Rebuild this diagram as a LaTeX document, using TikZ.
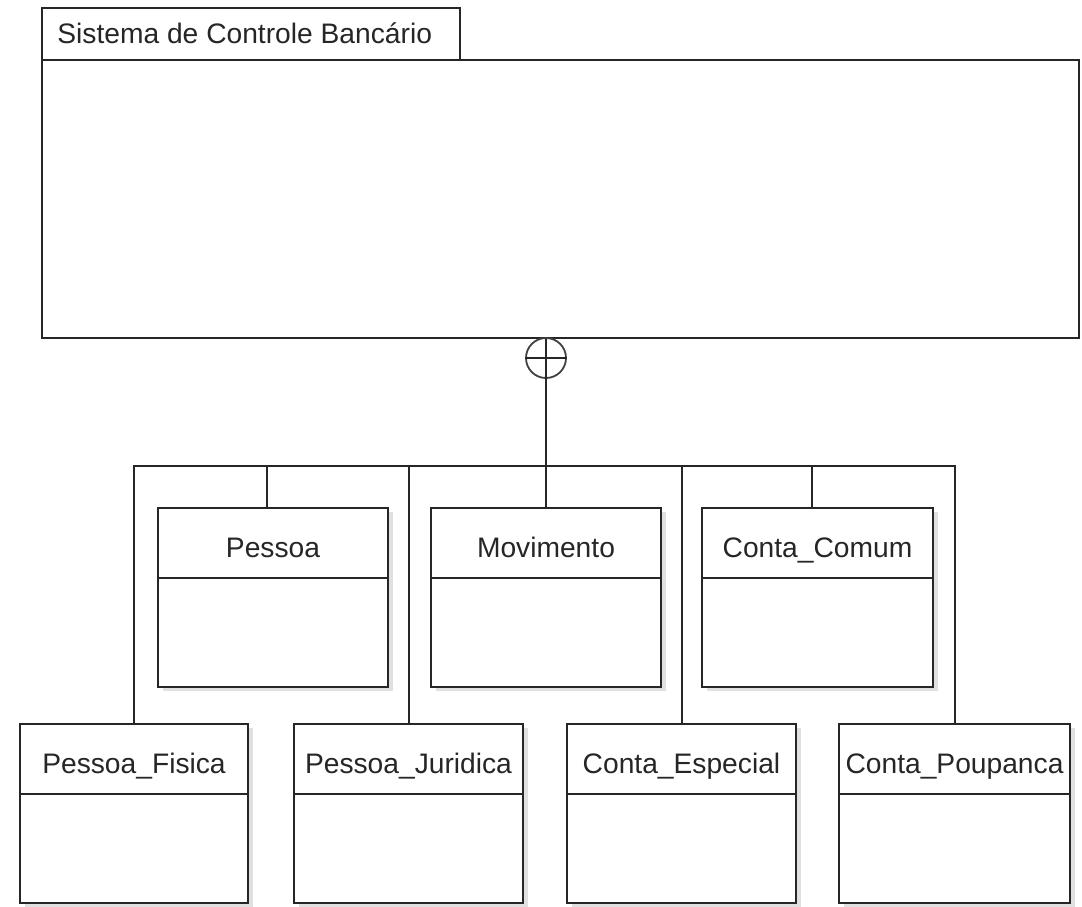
\documentclass[tikz,border=0pt]{standalone}
\usepackage{fontspec}
\setmainfont{Liberation Sans}
\usetikzlibrary{fit,shadows}
\newcommand\umlcls[6]{%
  \node[cls, fit={(#2,#3) (#4,#5)}] (#1) {};
  \draw[link] (#2,{#3+70}) -- (#4,{#3+70});
  \node[clsname, anchor=base] (#1-name) at ({(#2+#4)/2},{#3+49}) {#6};
}
\begin{document}
\begin{tikzpicture}[x=0.5pt,y=-0.5pt,
  box/.style={draw=black!85, line width=1pt, fill=white, inner sep=0pt},
  cls/.style={box, drop shadow={shadow xshift=2.5pt, shadow yshift=-2pt, fill=black!12, opacity=1}},
  clsname/.style={font=\fontsize{14.1}{16}\selectfont, text=black!85, inner sep=0pt},
  link/.style={draw=black!85, line width=1pt}]
\useasboundingbox (0,0) rectangle (1082,906);

% package
\node[box, fit={(42,8) (460,60)}] (tab) {};
\node[box, fit={(42,60) (1079,338)}] (main) {};
\node[clsname, anchor=base west] (title) at (57,43) {Sistema de Controle Bancário};

% classes
\umlcls{pes}{158}{508}{388}{687}{Pessoa}
\umlcls{mov}{431}{508}{661}{687}{Movimento}
\umlcls{cc}{702}{508}{933}{687}{Conta\_Comum}
\umlcls{pf}{20}{724}{248}{903}{Pessoa\_Fisica}
\umlcls{pj}{294}{724}{523}{903}{Pessoa\_Juridica}
\umlcls{ce}{567}{724}{796}{903}{Conta\_Especial}
\umlcls{cp}{839}{724}{1070}{903}{Conta\_Poupanca}

% containment
\node[draw=black!75, line width=0.9pt, circle, minimum size=20pt, inner sep=0pt] (nest) at (546,358) {};
\draw[link] (nest.west) -- (nest.east);
\draw[link] (mov.north |- main.south) -- (mov.north);

% bus
\coordinate (bus) at (0,466);
\draw[link] (pf.north) -- (pf.north |- bus) -- (cp.north |- bus) -- (cp.north);
\draw[link] (pj.north) -- (pj.north |- bus);
\draw[link] (ce.north) -- (ce.north |- bus);
\draw[link] ([xshift=-3pt]pes.north) -- ([xshift=-3pt]pes.north |- bus);
\draw[link] ([xshift=-3pt]cc.north) -- ([xshift=-3pt]cc.north |- bus);
\end{tikzpicture}
\end{document}
